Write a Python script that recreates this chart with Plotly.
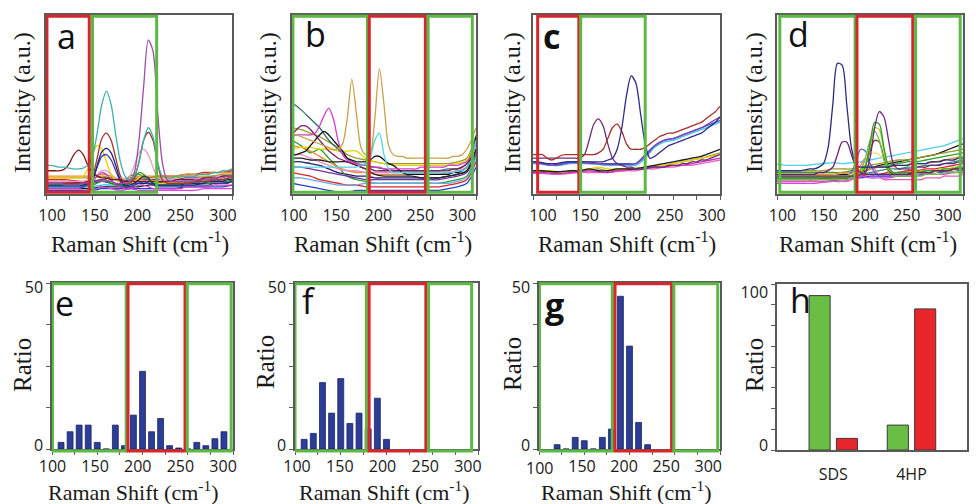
import plotly.graph_objects as go

W, H = 976, 504

# ---------------- shared grids ----------------
X_FINE = list(range(100, 301, 5))      # 41 points
X_COARSE = list(range(100, 301, 10))   # 21 points
SCALE_TICKS = list(range(100, 301, 25))
SCALE_TEXT = ['100', '150', '200', '250', '300']
# where each panel's typed scale labels sit (axis units)
label_pos = {
    1: [106.5, 152.5, 198.4, 244.4, 290.3],
    2: [102.2, 148.0, 193.8, 239.5, 285.3],
    3: [110.7, 155.9, 201.1, 246.2, 291.4],
    4: [105.9, 150.4, 194.9, 239.4, 283.9],
    5: [100.5, 147.6, 194.7, 241.9, 289.0],
    6: [102.2, 149.0, 195.6, 242.3, 289.0],
    7: [101.0, 147.5, 194.0, 240.5, 287.0],
}

# ---------------- panel a spectra ----------------
a_purple = [0.06,0.06,0.06,0.06,0.05,0.05,0.05,0.05,0.06,0.06,
            0.06,0.07,0.07,0.07,0.07,0.06,0.06,0.06,0.07,0.12,
            0.30,0.60,0.86,0.80,0.46,0.18,0.08,0.07,0.07,0.07,
            0.07,0.07,0.08,0.08,0.08,0.08,0.09,0.09,0.09,0.10,
            0.10]
a_teal = [0.16,0.16,0.155,0.15,0.15,0.145,0.14,0.14,0.145,0.16,
          0.21,0.34,0.50,0.575,0.50,0.33,0.18,0.10,0.08,0.10,
          0.18,0.30,0.37,0.32,0.18,0.10,0.09,0.09,0.10,0.10,
          0.10,0.10,0.10,0.11,0.11,0.11,0.12,0.12,0.13,0.13,
          0.14]
a_brown = [0.06,0.06,0.06,0.06,0.06,0.06,0.06,0.06,0.06,0.07,
           0.10,0.20,0.31,0.34,0.30,0.20,0.10,0.06,0.06,0.09,
           0.18,0.30,0.345,0.30,0.17,0.08,0.06,0.06,0.06,0.06,
           0.06,0.06,0.07,0.07,0.07,0.07,0.08,0.08,0.08,0.09,
           0.09]
a_maroon = [0.13,0.13,0.13,0.13,0.14,0.17,0.22,0.245,0.22,0.16,
            0.12,0.10,0.09,0.09,0.08,0.08,0.08,0.07,0.07,0.07,
            0.07,0.07,0.07,0.07,0.07,0.07,0.07,0.07,0.08,0.08,
            0.08,0.08,0.08,0.08,0.09,0.09,0.09,0.09,0.10,0.10,
            0.10]
a_navy = [0.05,0.05,0.05,0.05,0.05,0.05,0.05,0.05,0.05,0.06,
          0.08,0.16,0.235,0.255,0.23,0.16,0.08,0.05,0.05,0.06,
          0.08,0.10,0.09,0.06,0.05,0.05,0.05,0.05,0.05,0.05,
          0.06,0.06,0.06,0.06,0.06,0.07,0.07,0.07,0.07,0.08,
          0.08]
a_blue = [0.04,0.04,0.04,0.04,0.04,0.04,0.04,0.04,0.04,0.05,
          0.08,0.15,0.21,0.22,0.19,0.13,0.07,0.04,0.04,0.05,
          0.06,0.07,0.06,0.05,0.04,0.04,0.04,0.04,0.04,0.04,
          0.05,0.05,0.05,0.05,0.05,0.05,0.06,0.06,0.06,0.06,
          0.07]
a_yellow = [0.09,0.09,0.09,0.09,0.09,0.09,0.09,0.09,0.10,0.14,
            0.22,0.27,0.25,0.18,0.11,0.08,0.07,0.06,0.06,0.07,
            0.09,0.10,0.09,0.07,0.06,0.06,0.06,0.06,0.06,0.06,
            0.06,0.07,0.07,0.07,0.07,0.07,0.08,0.08,0.08,0.08,
            0.09]
a_pink = [0.07,0.07,0.07,0.07,0.07,0.07,0.07,0.07,0.07,0.08,
          0.09,0.11,0.13,0.13,0.11,0.09,0.08,0.08,0.10,0.16,
          0.23,0.25,0.22,0.15,0.09,0.08,0.08,0.08,0.08,0.08,
          0.08,0.08,0.08,0.09,0.09,0.09,0.09,0.10,0.10,0.10,
          0.10]
a_magenta = [0.03,0.03,0.03,0.03,0.03,0.03,0.03,0.03,0.04,0.05,
             0.07,0.10,0.12,0.11,0.08,0.05,0.04,0.03,0.03,0.04,
             0.05,0.05,0.04,0.03,0.03,0.03,0.03,0.03,0.03,0.03,
             0.04,0.04,0.04,0.04,0.04,0.04,0.05,0.05,0.05,0.05,
             0.05]
a_green = [0.05,0.05,0.05,0.05,0.05,0.05,0.05,0.05,0.05,0.05,
           0.05,0.06,0.07,0.07,0.06,0.05,0.05,0.05,0.06,0.09,
           0.12,0.11,0.08,0.06,0.05,0.05,0.05,0.05,0.05,0.05,
           0.06,0.06,0.06,0.06,0.06,0.06,0.07,0.07,0.07,0.07,
           0.08]
a_base_black = [0.03,0.03,0.03,0.03,0.03,0.03,0.04,0.04,0.04,0.04,0.04,0.05,0.05,0.05,0.05,0.05,0.05,0.06,0.06,0.06,0.07]
a_base_red = [0.08,0.08,0.08,0.075,0.07,0.07,0.08,0.09,0.07,0.08,0.09,0.09,0.10,0.10,0.10,0.11,0.11,0.12,0.12,0.12,0.13]
a_base_green = [0.05,0.05,0.05,0.05,0.05,0.06,0.08,0.07,0.05,0.10,0.11,0.08,0.06,0.06,0.06,0.07,0.07,0.07,0.08,0.08,0.08]
a_base_blue = [0.02,0.02,0.02,0.02,0.02,0.02,0.03,0.03,0.03,0.03,0.03,0.03,0.03,0.03,0.03,0.04,0.04,0.04,0.04,0.04,0.05]
a_base_orange = [0.10,0.10,0.10,0.10,0.10,0.10,0.11,0.10,0.08,0.09,0.10,0.10,0.10,0.10,0.10,0.11,0.11,0.11,0.12,0.12,0.12]
a_base_purple = [0.07,0.07,0.07,0.065,0.065,0.07,0.08,0.09,0.07,0.08,0.08,0.08,0.08,0.08,0.08,0.09,0.09,0.09,0.10,0.10,0.11]
a_base_cyan = [0.04,0.04,0.04,0.04,0.04,0.04,0.05,0.05,0.05,0.05,0.06,0.06,0.06,0.06,0.06,0.07,0.07,0.07,0.07,0.08,0.08]
a_base_magenta = [0.01,0.01,0.01,0.01,0.015,0.02,0.04,0.03,0.02,0.03,0.02,0.02,0.02,0.02,0.02,0.02,0.02,0.03,0.03,0.03,0.03]
a_base_olive = [0.09,0.09,0.09,0.09,0.09,0.09,0.10,0.09,0.08,0.09,0.08,0.09,0.09,0.09,0.09,0.10,0.10,0.10,0.10,0.11,0.11]
a_base_navy = [0.06,0.06,0.06,0.06,0.06,0.06,0.07,0.06,0.05,0.06,0.06,0.06,0.06,0.07,0.07,0.07,0.07,0.08,0.08,0.08,0.09]

# ---------------- panel b spectra ----------------
b_gold = [0.33,0.33,0.32,0.31,0.30,0.29,0.28,0.27,0.26,0.25,
          0.25,0.28,0.42,0.64,0.45,0.26,0.22,0.23,0.42,0.70,
          0.50,0.27,0.22,0.21,0.21,0.20,0.20,0.20,0.20,0.20,
          0.20,0.20,0.20,0.20,0.20,0.21,0.21,0.22,0.25,0.30,
          0.37]
b_cyan = [0.15,0.15,0.15,0.15,0.15,0.15,0.15,0.15,0.15,0.15,
          0.15,0.15,0.15,0.15,0.15,0.16,0.17,0.20,0.30,0.34,
          0.22,0.14,0.12,0.12,0.12,0.12,0.12,0.12,0.12,0.12,
          0.12,0.12,0.12,0.12,0.12,0.12,0.13,0.13,0.15,0.19,
          0.30]
b_magenta = [0.32,0.33,0.33,0.33,0.33,0.34,0.38,0.44,0.48,0.42,
             0.30,0.22,0.19,0.18,0.17,0.16,0.16,0.15,0.15,0.15,
             0.14,0.14,0.14,0.14,0.14,0.14,0.14,0.14,0.15,0.15,
             0.15,0.15,0.15,0.15,0.16,0.16,0.16,0.17,0.18,0.22,
             0.30]
b_black = [0.22,0.22,0.23,0.24,0.27,0.30,0.33,0.35,0.33,0.30,
           0.27,0.24,0.20,0.19,0.18,0.18,0.18,0.19,0.21,0.21,
           0.19,0.17,0.16,0.14,0.12,0.11,0.11,0.11,0.11,0.11,
           0.11,0.11,0.11,0.11,0.11,0.12,0.12,0.13,0.15,0.20,
           0.32]
b_maroon = [0.33,0.36,0.38,0.38,0.36,0.33,0.30,0.27,0.24,0.22,
            0.20,0.19,0.18,0.17,0.16,0.15,0.14,0.14,0.13,0.13,
            0.13,0.13,0.13,0.13,0.13,0.13,0.13,0.13,0.13,0.13,
            0.13,0.13,0.13,0.13,0.13,0.14,0.14,0.15,0.17,0.21,
            0.30]
b_darkteal = [0.51,0.47,0.42,0.37,0.30,0.25,0.20,0.17,0.16,0.15,0.14,0.13,0.13,0.13,0.13,0.13,0.13,0.14,0.14,0.17,0.30]
b_black2 = [0.20,0.20,0.19,0.19,0.18,0.18,0.18,0.16,0.14,0.11,0.10,0.10,0.10,0.10,0.09,0.09,0.09,0.10,0.11,0.13,0.25]
b_base_navy = [0.18,0.18,0.17,0.16,0.14,0.12,0.11,0.10,0.10,0.09,0.09,0.09,0.09,0.09,0.09,0.09,0.09,0.10,0.11,0.13,0.25]
b_base_red = [0.12,0.11,0.10,0.08,0.07,0.06,0.05,0.05,0.04,0.04,0.04,0.04,0.04,0.04,0.04,0.04,0.04,0.05,0.06,0.08,0.18]
b_base_green = [0.30,0.27,0.23,0.25,0.20,0.15,0.10,0.08,0.07,0.06,0.06,0.06,0.06,0.06,0.06,0.06,0.06,0.07,0.08,0.10,0.22]
b_base_blue = [0.06,0.05,0.04,0.03,0.02,0.01,0.01,0.02,0.02,0.02,0.02,0.02,0.02,0.02,0.02,0.02,0.02,0.03,0.04,0.06,0.15]
b_base_orange = [0.27,0.26,0.24,0.21,0.18,0.15,0.13,0.12,0.12,0.11,0.11,0.11,0.11,0.11,0.11,0.11,0.11,0.12,0.13,0.15,0.28]
b_base_olive = [0.37,0.36,0.34,0.32,0.29,0.26,0.22,0.20,0.19,0.18,0.17,0.17,0.17,0.17,0.17,0.17,0.17,0.17,0.18,0.20,0.33]
b_base_purple = [0.15,0.15,0.14,0.13,0.12,0.11,0.10,0.09,0.08,0.08,0.08,0.08,0.08,0.08,0.08,0.08,0.08,0.09,0.10,0.12,0.24]
b_base_pink = [0.22,0.22,0.20,0.18,0.16,0.14,0.13,0.13,0.12,0.12,0.12,0.12,0.12,0.12,0.12,0.12,0.12,0.12,0.13,0.15,0.26]
b_base_yellow = [0.25,0.26,0.26,0.25,0.25,0.24,0.24,0.24,0.20,0.18,0.17,0.16,0.16,0.16,0.16,0.16,0.16,0.16,0.17,0.19,0.30]
b_base_lightblue = [0.09,0.09,0.08,0.07,0.06,0.05,0.05,0.05,0.06,0.06,0.06,0.06,0.06,0.06,0.06,0.06,0.06,0.06,0.07,0.09,0.20]

# ---------------- panel c spectra ----------------
c_navy = [0.18,0.18,0.175,0.17,0.17,0.17,0.175,0.18,0.18,0.18,
          0.18,0.18,0.18,0.18,0.18,0.18,0.19,0.20,0.25,0.37,
          0.55,0.66,0.62,0.45,0.28,0.20,0.21,0.23,0.25,0.27,
          0.28,0.29,0.30,0.31,0.32,0.33,0.34,0.36,0.38,0.40,
          0.43]
c_purple = [0.20,0.20,0.20,0.20,0.20,0.20,0.20,0.20,0.20,0.20,
            0.20,0.22,0.30,0.39,0.42,0.38,0.28,0.20,0.17,0.16,
            0.15,0.15,0.14,0.14,0.14,0.15,0.15,0.15,0.15,0.16,
            0.16,0.16,0.17,0.17,0.18,0.18,0.19,0.19,0.20,0.21,
            0.22]
c_brown = [0.22,0.22,0.22,0.20,0.19,0.20,0.215,0.22,0.22,0.22,
           0.22,0.22,0.22,0.22,0.23,0.25,0.31,0.37,0.39,0.35,
           0.28,0.25,0.25,0.25,0.26,0.28,0.30,0.32,0.33,0.34,
           0.34,0.35,0.36,0.37,0.38,0.39,0.40,0.42,0.44,0.46,
           0.49]
c_base_blue = [0.18,0.17,0.16,0.17,0.18,0.18,0.18,0.17,0.17,0.17,0.17,0.17,0.22,0.27,0.30,0.31,0.33,0.35,0.37,0.39,0.41]
c_base_cyan = [0.17,0.165,0.16,0.16,0.17,0.17,0.17,0.165,0.16,0.16,0.16,0.16,0.20,0.26,0.29,0.30,0.32,0.34,0.36,0.38,0.40]
c_base_violet = [0.175,0.17,0.16,0.165,0.175,0.175,0.17,0.17,0.165,0.165,0.165,0.17,0.21,0.27,0.30,0.31,0.33,0.35,0.37,0.40,0.43]
c_base_black = [0.13,0.13,0.125,0.125,0.13,0.13,0.14,0.13,0.13,0.14,0.14,0.14,0.15,0.16,0.17,0.18,0.19,0.20,0.21,0.23,0.25]
c_base_magenta = [0.12,0.12,0.115,0.115,0.12,0.125,0.13,0.125,0.12,0.13,0.135,0.14,0.14,0.15,0.15,0.16,0.16,0.17,0.18,0.19,0.20]
c_base_pink = [0.115,0.115,0.11,0.11,0.115,0.12,0.12,0.12,0.12,0.125,0.13,0.13,0.14,0.14,0.15,0.15,0.16,0.16,0.17,0.18,0.19]
c_base_yellow = [0.13,0.13,0.13,0.12,0.13,0.13,0.14,0.15,0.14,0.14,0.14,0.14,0.15,0.16,0.16,0.17,0.18,0.19,0.20,0.21,0.22]
c_base_olive = [0.125,0.125,0.12,0.12,0.125,0.13,0.135,0.14,0.13,0.135,0.14,0.145,0.15,0.155,0.16,0.17,0.18,0.19,0.20,0.215,0.23]

# ---------------- panel d spectra ----------------
d_navy = [0.13,0.13,0.13,0.13,0.13,0.13,0.135,0.14,0.14,0.15,
          0.17,0.26,0.50,0.73,0.72,0.50,0.26,0.16,0.15,0.15,
          0.15,0.15,0.15,0.15,0.15,0.16,0.16,0.16,0.16,0.17,
          0.17,0.17,0.17,0.18,0.18,0.18,0.19,0.19,0.19,0.20,
          0.20]
d_purple = [0.11,0.11,0.11,0.11,0.11,0.11,0.11,0.11,0.11,0.12,
            0.12,0.13,0.15,0.22,0.29,0.29,0.22,0.15,0.12,0.11,
            0.11,0.11,0.11,0.11,0.11,0.11,0.11,0.11,0.11,0.12,
            0.12,0.12,0.12,0.12,0.13,0.13,0.13,0.13,0.14,0.14,
            0.14]
d_violet = [0.10,0.10,0.10,0.10,0.10,0.10,0.10,0.10,0.10,0.10,
            0.10,0.10,0.10,0.10,0.10,0.10,0.10,0.10,0.11,0.12,
            0.20,0.37,0.46,0.43,0.30,0.17,0.14,0.14,0.14,0.14,
            0.15,0.15,0.15,0.16,0.16,0.16,0.17,0.17,0.17,0.18,
            0.18]
d_green = [0.09,0.09,0.09,0.09,0.09,0.09,0.09,0.09,0.09,0.09,
           0.09,0.09,0.09,0.09,0.09,0.09,0.10,0.10,0.11,0.15,
           0.28,0.40,0.39,0.26,0.15,0.12,0.12,0.12,0.12,0.12,
           0.12,0.12,0.13,0.13,0.13,0.13,0.14,0.14,0.14,0.15,
           0.15]
d_yellowgreen = [0.10,0.10,0.10,0.10,0.10,0.10,0.10,0.10,0.10,0.10,
                 0.10,0.10,0.10,0.10,0.10,0.10,0.10,0.11,0.12,0.16,
                 0.26,0.37,0.36,0.24,0.14,0.12,0.12,0.12,0.12,0.12,
                 0.12,0.13,0.13,0.13,0.13,0.14,0.14,0.14,0.15,0.15,
                 0.15]
d_lime = [0.08,0.08,0.08,0.08,0.08,0.08,0.08,0.08,0.08,0.08,
          0.08,0.08,0.08,0.08,0.08,0.08,0.09,0.10,0.13,0.20,
          0.30,0.35,0.30,0.19,0.12,0.10,0.10,0.10,0.10,0.10,
          0.10,0.10,0.11,0.11,0.11,0.11,0.12,0.12,0.12,0.12,
          0.13]
d_brown = [0.09,0.09,0.09,0.09,0.09,0.09,0.09,0.09,0.09,0.09,
           0.09,0.09,0.09,0.09,0.09,0.09,0.10,0.11,0.12,0.16,
           0.24,0.30,0.29,0.20,0.13,0.11,0.11,0.11,0.11,0.11,
           0.12,0.12,0.12,0.12,0.13,0.13,0.13,0.13,0.14,0.14,
           0.14]
d_lightyellow = [0.10,0.10,0.10,0.10,0.10,0.10,0.10,0.10,0.10,0.10,
                 0.10,0.10,0.10,0.10,0.10,0.10,0.11,0.12,0.15,0.19,
                 0.22,0.23,0.22,0.19,0.15,0.12,0.11,0.11,0.11,0.11,
                 0.11,0.12,0.12,0.12,0.12,0.13,0.13,0.13,0.13,0.14,
                 0.14]
d_blue = [0.10,0.10,0.10,0.10,0.10,0.10,0.10,0.10,0.10,0.10,
          0.10,0.10,0.10,0.10,0.10,0.10,0.12,0.18,0.25,0.24,
          0.17,0.12,0.10,0.10,0.10,0.10,0.10,0.10,0.10,0.10,
          0.11,0.11,0.11,0.11,0.12,0.12,0.12,0.12,0.13,0.13,
          0.13]
d_pink = [0.07,0.07,0.07,0.07,0.07,0.07,0.07,0.07,0.07,0.07,
          0.07,0.07,0.07,0.07,0.07,0.07,0.08,0.11,0.16,0.20,
          0.17,0.14,0.10,0.08,0.08,0.08,0.08,0.08,0.08,0.08,
          0.08,0.08,0.09,0.09,0.09,0.09,0.10,0.10,0.10,0.10,
          0.11]
d_cyan = [0.165,0.16,0.16,0.16,0.165,0.17,0.175,0.17,0.175,0.18,0.19,0.20,0.21,0.22,0.23,0.24,0.25,0.26,0.27,0.29,0.31]
d_base_black = [0.10,0.10,0.10,0.10,0.10,0.10,0.10,0.11,0.11,0.12,0.14,0.16,0.17,0.18,0.19,0.20,0.21,0.22,0.24,0.26,0.28]
d_base_red = [0.08,0.08,0.08,0.08,0.08,0.085,0.09,0.09,0.10,0.10,0.11,0.11,0.12,0.12,0.13,0.13,0.14,0.14,0.15,0.16,0.17]
d_base_green = [0.12,0.12,0.12,0.12,0.12,0.12,0.12,0.12,0.13,0.14,0.15,0.15,0.16,0.17,0.18,0.18,0.19,0.20,0.21,0.22,0.23]
d_base_blue = [0.07,0.07,0.07,0.07,0.07,0.07,0.075,0.08,0.09,0.09,0.10,0.10,0.10,0.11,0.11,0.12,0.12,0.12,0.13,0.13,0.14]
d_base_orange = [0.11,0.11,0.11,0.11,0.11,0.11,0.11,0.12,0.12,0.13,0.14,0.15,0.15,0.16,0.16,0.17,0.17,0.18,0.19,0.20,0.21]
d_base_magenta = [0.06,0.06,0.06,0.06,0.06,0.065,0.07,0.07,0.08,0.10,0.09,0.09,0.09,0.10,0.10,0.10,0.11,0.11,0.11,0.12,0.12]
d_base_olive = [0.13,0.13,0.13,0.13,0.13,0.13,0.14,0.14,0.14,0.15,0.16,0.17,0.18,0.19,0.19,0.20,0.21,0.22,0.23,0.24,0.25]
d_base_teal = [0.09,0.09,0.09,0.09,0.09,0.09,0.10,0.10,0.10,0.11,0.12,0.13,0.14,0.14,0.15,0.15,0.16,0.16,0.17,0.18,0.19]

# ---------------- histograms e, f, g ----------------
e_bins = [110, 120, 130, 140, 150, 160, 170, 180, 190, 200, 210, 220, 230, 240, 250, 260, 270, 280, 290]
e_ratio = [2, 5.2, 7.2, 7.2, 2, 0, 7.2, 1, 10.2, 23.4, 5.2, 9.2, 1, 0.3, 0, 2, 1, 3.1, 5.2]
f_bins = [110, 120, 130, 140, 150, 160, 170, 180, 190, 200]
f_ratio = [2.9, 4.7, 20, 10.8, 21.2, 7.7, 10.8, 6, 15.3, 2.9]
g_bins = [120, 130, 140, 150, 160, 170, 180, 190, 200, 210, 220]
g_ratio = [1.3, 0, 3.5, 2.5, 0, 3.5, 6, 46, 31, 8, 1.3]

# ---------------- bar chart h ----------------
h_categories = ['SDS', '4HP']
h_green = [93, 15]
h_red = [7, 85]

# ---------------- styling ----------------
RED_BOX = '#d7262c'
GREEN_BOX = '#5cb946'
AXIS_COL = '#5a5a5a'
TICK_FONT = dict(family='Open Sans', size=16, color='#1a1a1a')
SERIF = 'Liberation Serif'

panel_lines = {
    1: [
        (X_COARSE, a_base_black, '#1a1a1a'), (X_COARSE, a_base_red, '#e02424'),
        (X_COARSE, a_base_green, '#2aa02a'), (X_COARSE, a_base_blue, '#2442d0'),
        (X_COARSE, a_base_orange, '#f08a24'), (X_COARSE, a_base_purple, '#7030a0'),
        (X_COARSE, a_base_cyan, '#22c0e0'), (X_COARSE, a_base_magenta, '#e040e0'),
        (X_COARSE, a_base_olive, '#a0a030'), (X_COARSE, a_base_navy, '#202070'),
        (X_FINE, a_green, '#2aa02a'), (X_FINE, a_magenta, '#c43cc4'),
        (X_FINE, a_pink, '#e89ccc'), (X_FINE, a_yellow, '#e6d200'),
        (X_FINE, a_blue, '#3a3aa8'), (X_FINE, a_navy, '#1c2a7c'),
        (X_FINE, a_maroon, '#7d1616'), (X_FINE, a_brown, '#a8322d'),
        (X_FINE, a_teal, '#3fb2a6'), (X_FINE, a_purple, '#9a4ea8'),
    ],
    2: [
        (X_COARSE, b_base_navy, '#202070'), (X_COARSE, b_base_red, '#e02424'),
        (X_COARSE, b_base_green, '#2aa02a'), (X_COARSE, b_base_blue, '#2442d0'),
        (X_COARSE, b_base_orange, '#f08a24'), (X_COARSE, b_base_olive, '#9a9a2a'),
        (X_COARSE, b_base_purple, '#7030a0'), (X_COARSE, b_base_pink, '#f08cc8'),
        (X_COARSE, b_base_yellow, '#e6d200'), (X_COARSE, b_base_lightblue, '#6aa8e8'),
        (X_COARSE, b_darkteal, '#2a6a6a'), (X_COARSE, b_black2, '#222222'),
        (X_FINE, b_maroon, '#7a1f63'), (X_FINE, b_black, '#111111'),
        (X_FINE, b_magenta, '#d23fc2'), (X_FINE, b_cyan, '#4fd4e8'),
        (X_FINE, b_gold, '#c9a24a'),
    ],
    3: [
        (X_COARSE, c_base_olive, '#9a9a2a'), (X_COARSE, c_base_yellow, '#e6d200'),
        (X_COARSE, c_base_pink, '#f060c0'), (X_COARSE, c_base_magenta, '#c030c0'),
        (X_COARSE, c_base_black, '#1a1a1a'), (X_COARSE, c_base_cyan, '#40c8e0'),
        (X_COARSE, c_base_blue, '#4050c0'), (X_COARSE, c_base_violet, '#8040c0'),
        (X_FINE, c_purple, '#6b2d7b'), (X_FINE, c_brown, '#a3302b'),
        (X_FINE, c_navy, '#2e2a8a'),
    ],
    4: [
        (X_COARSE, d_base_black, '#1a1a1a'), (X_COARSE, d_base_red, '#e02424'),
        (X_COARSE, d_base_green, '#2aa02a'), (X_COARSE, d_base_blue, '#2442d0'),
        (X_COARSE, d_base_orange, '#f08a24'), (X_COARSE, d_base_magenta, '#e040e0'),
        (X_COARSE, d_base_olive, '#9a9a2a'), (X_COARSE, d_base_teal, '#2a8a8a'),
        (X_COARSE, d_cyan, '#55d0e2'),
        (X_FINE, d_pink, '#e060b0'), (X_FINE, d_blue, '#4a62c8'),
        (X_FINE, d_lightyellow, '#f2e27a'), (X_FINE, d_brown, '#7a3020'),
        (X_FINE, d_lime, '#6cc04a'), (X_FINE, d_yellowgreen, '#a8c820'),
        (X_FINE, d_green, '#2f9e2f'), (X_FINE, d_violet, '#6e2a82'),
        (X_FINE, d_purple, '#6a1f6a'), (X_FINE, d_navy, '#2a2a80'),
    ],
}

# panel placement in pixels: (left, right, top, bottom)
panel_px = {
    1: (46, 232, 15, 194), 2: (292, 476, 15, 194),
    3: (533, 720, 15, 194), 4: (777, 963, 15, 194),
    5: (52, 233, 283, 449), 6: (295, 478, 283, 449),
    7: (539, 720, 283, 449), 8: (777, 967, 284, 450),
}

boxes = {
    1: [(101, 146.5, RED_BOX), (150, 219, GREEN_BOX)],
    2: [(101, 182, GREEN_BOX), (184, 245, RED_BOX), (248, 296, GREEN_BOX)],
    3: [(105, 149, RED_BOX), (151, 220, GREEN_BOX)],
    4: [(103, 184, GREEN_BOX), (186, 246, RED_BOX), (249, 297, GREEN_BOX)],
    5: [(100.5, 182, GREEN_BOX), (184, 247, RED_BOX), (249.5, 298, GREEN_BOX)],
    6: [(100, 178, GREEN_BOX), (181, 243, RED_BOX), (246, 293, GREEN_BOX)],
    7: [(100.5, 181, GREEN_BOX), (184, 246.5, RED_BOX), (249, 297.5, GREEN_BOX)],
}


def ax_id(i, kind):
    return kind if i == 1 else f'{kind}{i}'


fig = go.Figure()

for i, lines in panel_lines.items():
    for xs, ys, col in lines:
        assert len(xs) == len(ys), (i, col, len(ys))
        fig.add_trace(go.Scatter(
            x=xs, y=ys, mode='lines',
            line=dict(color=col, width=1.3, shape='spline', smoothing=0.8),
            xaxis=ax_id(i, 'x'), yaxis=ax_id(i, 'y'),
            hoverinfo='skip', showlegend=False))

for i, (bins, vals) in {5: (e_bins, e_ratio), 6: (f_bins, f_ratio), 7: (g_bins, g_ratio)}.items():
    fig.add_trace(go.Bar(
        x=bins, y=vals, width=6.5,
        marker=dict(color='#2b3d97', line=dict(color='#1a2560', width=0.8)),
        xaxis=ax_id(i, 'x'), yaxis=ax_id(i, 'y'),
        hoverinfo='skip', showlegend=False))

fig.add_trace(go.Bar(
    x=h_categories, y=h_green, width=0.27, offset=-0.31,
    marker=dict(color='#6abd45', line=dict(color='#3a3a3a', width=1)),
    xaxis='x8', yaxis='y8', hoverinfo='skip', showlegend=False))
fig.add_trace(go.Bar(
    x=h_categories, y=h_red, width=0.27, offset=0.04,
    marker=dict(color='#e8262b', line=dict(color='#3a3a3a', width=1)),
    xaxis='x8', yaxis='y8', hoverinfo='skip', showlegend=False))

layout = dict(
    width=W, height=H, autosize=False,
    margin=dict(l=0, r=0, t=0, b=0, autoexpand=False),
    paper_bgcolor='white', plot_bgcolor='white',
    barmode='overlay', showlegend=False,
)


def minor_marks(vals):
    return dict(tickmode='array', tickvals=vals, ticks='outside', ticklen=4,
                tickcolor=AXIS_COL, tickwidth=1, showgrid=False)


annotations = []

for i, (l, r, t, b) in panel_px.items():
    xdom = [l / W, r / W]
    ydom = [1 - b / H, 1 - t / H]
    xa = dict(domain=xdom, anchor=ax_id(i, 'y'), showline=True, mirror=True, automargin=False,
              linecolor=AXIS_COL, linewidth=1.5, showgrid=False, zeroline=False,
              ticks='', tickfont=TICK_FONT, ticklabeloverflow='allow')
    ya = dict(domain=ydom, anchor=ax_id(i, 'x'), showline=True, mirror=True, automargin=False,
              linecolor=AXIS_COL, linewidth=1.5, showgrid=False, zeroline=False,
              ticks='', tickfont=TICK_FONT, ticklabeloverflow='allow')
    if i <= 7:
        pos, txt = label_pos[i], SCALE_TEXT
        if i == 7:
            # first scale label of panel g is written as a text placed on the axis
            annotations.append(dict(text=txt[0], x=pos[0], xref='x7', y=1 - 468 / H, yref='paper',
                                    showarrow=False, xanchor='center', yanchor='middle',
                                    font=TICK_FONT))
            pos, txt = pos[1:], txt[1:]
        xa.update(range=[100, 300], tickmode='array', tickvals=pos, ticktext=txt,
                  minor=minor_marks(SCALE_TICKS))
    if i <= 4:
        xa.update(ticklabelstandoff=6)
        ya.update(range=[0, 1], showticklabels=False)
    elif i <= 7:
        xa.update(ticklabelstandoff=2)
        ya.update(range=[0, 50], tickmode='array', tickvals=[1.2, 48.8], ticktext=['0', '50'],
                  ticklabelstandoff=4, minor=minor_marks([0, 12.5, 25, 37.5, 50]))
    else:
        xa.update(range=[-0.72, 1.71], ticklabelstandoff=9)
        ya.update(range=[0, 100], tickmode='array', tickvals=[3, 95], ticktext=['0', '100'],
                  ticklabelstandoff=4,
                  minor=minor_marks([0, 12.5, 25, 37.5, 50, 62.5, 75, 87.5, 100]))
    layout[('xaxis' if i == 1 else f'xaxis{i}')] = xa
    layout[('yaxis' if i == 1 else f'yaxis{i}')] = ya

shapes = []
for i, bx in boxes.items():
    y0, y1 = (0.01, 0.993) if i <= 4 else (-0.012, 0.995)
    for x0, x1, col in bx:
        shapes.append(dict(type='rect', xref=ax_id(i, 'x'), yref=ax_id(i, 'y') + ' domain',
                           x0=x0, x1=x1, y0=y0, y1=y1,
                           line=dict(color=col, width=3), fillcolor='rgba(0,0,0,0)',
                           layer='above'))
layout['shapes'] = shapes

xtitle = 'Raman Shift (cm<sup>-1</sup>)'
for cx, cy, fs in [(140, 242, 23), (383, 242, 23), (627, 242, 23), (868, 242, 23),
                   (133, 491, 22), (384, 491, 22), (626, 491, 22)]:
    annotations.append(dict(text=xtitle, x=cx / W, y=1 - cy / H, xref='paper', yref='paper',
                            showarrow=False, xanchor='center', yanchor='middle',
                            font=dict(family=SERIF, size=fs, color='#1a1a1a')))
for cx, cy in [(22, 103), (268, 103), (512, 103), (754, 103)]:
    annotations.append(dict(text='Intensity (a.u.)', x=cx / W, y=1 - cy / H, xref='paper', yref='paper',
                            showarrow=False, textangle=-90, xanchor='center', yanchor='middle',
                            font=dict(family=SERIF, size=24, color='#1a1a1a')))
for cx, cy in [(22, 365), (265, 362), (512, 364), (754, 365)]:
    annotations.append(dict(text='Ratio', x=cx / W, y=1 - cy / H, xref='paper', yref='paper',
                            showarrow=False, textangle=-90, xanchor='center', yanchor='middle',
                            font=dict(family=SERIF, size=25, color='#1a1a1a')))

letters = [('a', 55, 36), ('b', 303, 34), ('<b>c</b>', 541, 36), ('d', 786, 34),
           ('e', 53, 303), ('f', 300, 301), ('<b>g</b>', 543, 305), ('h', 788, 300)]
for txt, lx, ly in letters:
    annotations.append(dict(text=txt, x=lx / W, y=1 - ly / H, xref='paper', yref='paper',
                            showarrow=False, xanchor='left', yanchor='middle',
                            font=dict(family='Open Sans', size=34, color='#111111')))
layout['annotations'] = annotations

fig.update_layout(**layout)
fig.write_html('out.html', config={'displayModeBar': False},
               post_script="document.body.style.margin='0px';document.body.style.overflow='hidden';")
